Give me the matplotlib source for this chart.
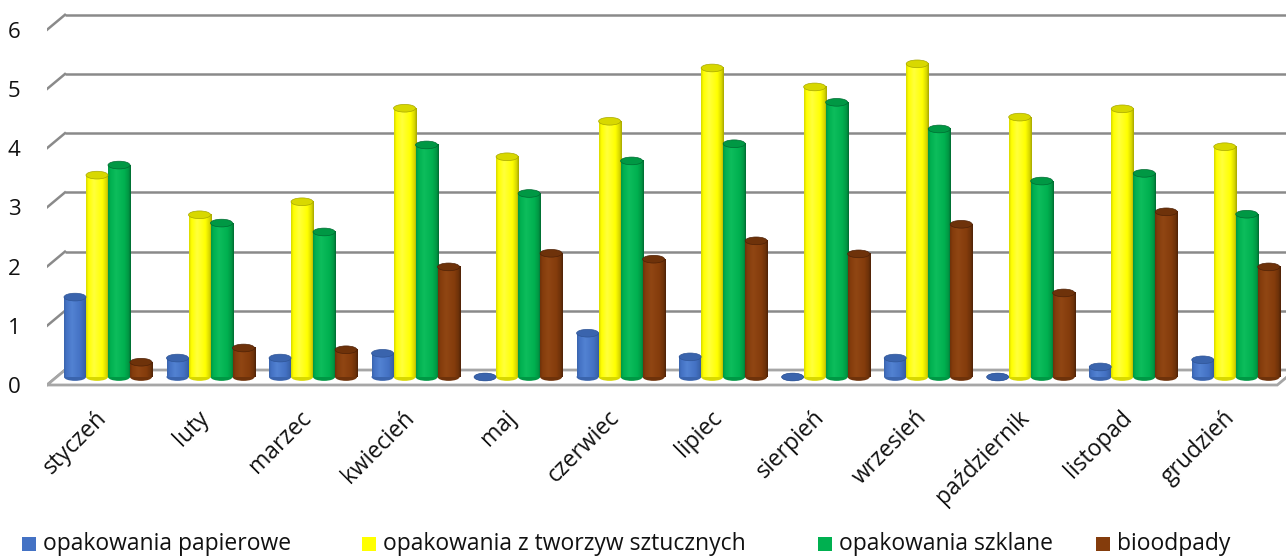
import numpy as np
import matplotlib.pyplot as plt
from matplotlib.colors import LinearSegmentedColormap
from matplotlib.patches import Rectangle, Ellipse, Polygon
from matplotlib.transforms import ScaledTranslation

plt.rcParams['font.family'] = ['Open Sans', 'DejaVu Sans']

months = ['styczeń', 'luty', 'marzec', 'kwiecień', 'maj', 'czerwiec', 'lipiec',
          'sierpień', 'wrzesień', 'październik', 'listopad', 'grudzień']
papier = [1.35, 0.32, 0.32, 0.40, 0.0, 0.74, 0.34, 0.0, 0.32, 0.0, 0.17, 0.29]
plastik = [3.41, 2.74, 2.96, 4.54, 3.72, 4.32, 5.22, 4.90, 5.29, 4.39, 4.53, 3.89]
szklo = [3.58, 2.60, 2.45, 3.92, 3.10, 3.65, 3.94, 4.64, 4.19, 3.31, 3.44, 2.75]
bio = [0.25, 0.49, 0.46, 1.86, 2.09, 1.99, 2.30, 2.08, 2.58, 1.42, 2.79, 1.86]
names = ['opakowania papierowe', 'opakowania z tworzyw sztucznych',
         'opakowania szklane', 'bioodpady']
yticks = [0, 1, 2, 3, 4, 5, 6]

series = [papier, plastik, szklo, bio]
# dark edge, base, slight highlight, top cap
shades = [
    ('#2f5597', '#4472C4', '#5282d2', '#3a64ad'),
    ('#a8a800', '#FFFF00', '#ffff3c', '#d8d800'),
    ('#006b32', '#00B050', '#0dbd5c', '#009844'),
    ('#4f2207', '#843C0C', '#904613', '#6e320a'),
]

W, H = 1286, 556
fig = plt.figure(figsize=(W / 100, H / 100), dpi=100)

# axes: x from px 47 to 1286, y value 0 at px 377, 59.2 px per unit
ylo, yhi = -0.3, 6.3
bot_px = 377 + 0.3 * 59.2
top_px = 377 - 6.3 * 59.2
ax = fig.add_axes([47 / W, 1 - bot_px / H, (W - 47) / W, (bot_px - top_px) / H])
xlo, xhi = -0.595, 11.49

back = 0.118    # back wall offset
front = -0.135  # front edge offset
xback = -0.42

# walls / gridlines
for v in yticks:
    ax.plot([xback, xhi + 0.5], [v + back, v + back], color='#8a8a8a', lw=1.8,
            zorder=0, solid_capstyle='butt')
    ax.plot([xlo, xback], [v + front, v + back], color='#8a8a8a', lw=1.8, zorder=0)

floor = Polygon([[xlo, front], [11.405, front], [11.58, back], [xback, back]],
                closed=True, facecolor='white', edgecolor='#a6a6a6', lw=2, zorder=1)
ax.add_patch(floor)

bw = 0.2146
offsets = [-1.5 * bw, -0.5 * bw, 0.5 * bw, 1.5 * bw]
eh = 0.13
grad = np.linspace(0, 1, 64).reshape(1, -1)

for s, vals in enumerate(series):
    dark, base, light, cap = shades[s]
    cm = LinearSegmentedColormap.from_list(
        'c%d' % s, [(0, cap), (0.1, base), (0.35, light), (0.72, base),
                    (0.9, cap), (1, dark)])
    for i, h in enumerate(vals):
        xc = i + offsets[s]
        x0, x1 = xc - bw / 2, xc + bw / 2
        ax.add_patch(Ellipse((xc, 0), bw, eh, facecolor=cap, edgecolor='none',
                             zorder=2))
        if h > 0:
            ax.imshow(grad, extent=[x0, x1, 0, h], aspect='auto', cmap=cm,
                      interpolation='bilinear', zorder=3)
        ax.add_patch(Ellipse((xc, h), bw, eh, facecolor=cap, edgecolor=dark,
                             lw=0.5, zorder=4))

ax.set_xlim(xlo, xhi)
ax.set_ylim(ylo, yhi)
for sp in ax.spines.values():
    sp.set_visible(False)

ax.set_yticks([v + front for v in yticks], labels=[str(v) for v in yticks])
ax.tick_params(axis='y', length=0, pad=19, labelsize=16, labelcolor='#111111')

ax.set_xticks(range(len(months)), labels=months)
ax.tick_params(axis='x', length=0, pad=14, labelsize=16.5, labelcolor='#111111')
off = ScaledTranslation(-5 / 100, 0, fig.dpi_scale_trans)
for lab in ax.get_xticklabels():
    lab.set_rotation(45)
    lab.set_ha('right')
    lab.set_va('center')
    lab.set_rotation_mode('anchor')
    lab.set_transform(lab.get_transform() + off)

# legend
leg_x = [22, 362, 818, 1096]
for s in range(4):
    fig.patches.append(Rectangle((leg_x[s] / W, 1 - 551 / H), 14 / W, 14 / H,
                                 transform=fig.transFigure,
                                 facecolor=shades[s][1], edgecolor='none'))
    fig.text((leg_x[s] + 21) / W, 1 - 544 / H, names[s], fontsize=16.5,
             va='center', ha='left', color='#111111')

fig.savefig('out.png', dpi=100)
